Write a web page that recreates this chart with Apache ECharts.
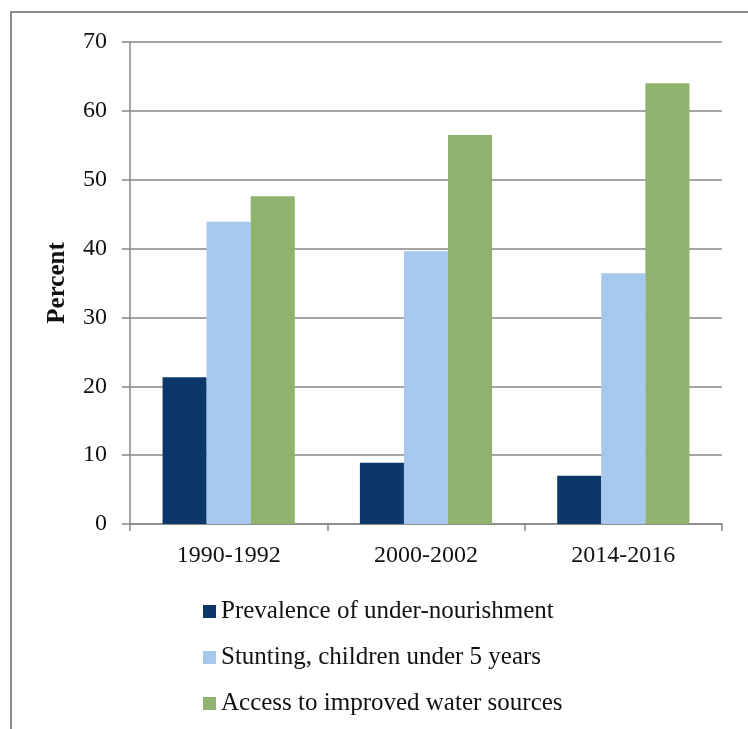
<!DOCTYPE html>
<html>
<head>
<meta charset="utf-8">
<script src="https://cdn.jsdelivr.net/npm/echarts@6/dist/echarts.min.js"></script>
<style>
html,body{margin:0;padding:0;background:#fff;}
#chart{width:748px;height:729px;}
</style>
</head>
<body>
<div id="chart"></div>
<script>
var categories = ['1990-1992', '2000-2002', '2014-2016'];
var seriesNames = ['Prevalence of under-nourishment', 'Stunting, children under 5 years', 'Access to improved water sources'];
var undernourishment = [21.3, 8.9, 7.0];
var stunting = [43.9, 39.6, 36.4];
var water = [47.6, 56.5, 64.0];
var yTicks = [0, 10, 20, 30, 40, 50, 60, 70];

var colors = ['#0B3868', '#A6C7EE', '#8FB26E'];
var font = '"Liberation Serif", "DejaVu Serif", serif';

var chart = echarts.init(document.getElementById('chart'), null, {renderer: 'canvas'});
var gridColor = '#878787';
chart.setOption({
  animation: false,
  backgroundColor: '#fff',
  textStyle: {fontFamily: font},
  graphic: [{
    type: 'polyline',
    shape: {points: [[11, 740], [11, 12], [760, 12]]},
    style: {stroke: '#8a8a8a', lineWidth: 2, fill: null},
    silent: true
  }],
  grid: {left: 130, right: 26, top: 42, bottom: 205, containLabel: false},
  legend: {
    orient: 'vertical',
    left: 198,
    top: 594,
    itemWidth: 13,
    itemHeight: 13,
    itemGap: 21,
    icon: 'rect',
    textStyle: {fontFamily: font, fontSize: 25, color: '#111', lineHeight: 24},
    data: seriesNames
  },
  xAxis: {
    type: 'category',
    data: categories,
    boundaryGap: true,
    axisLine: {show: true, lineStyle: {color: gridColor, width: 1.5}},
    axisTick: {show: true, length: 7, alignWithLabel: false, lineStyle: {color: gridColor, width: 1.5}},
    axisLabel: {fontFamily: font, fontSize: 24, color: '#111', margin: 20}
  },
  yAxis: {
    type: 'value',
    min: yTicks[0],
    max: yTicks[yTicks.length - 1],
    interval: 10,
    name: 'Percent',
    nameLocation: 'middle',
    nameGap: 60,
    nameRotate: 90,
    nameTextStyle: {fontFamily: font, fontSize: 25, fontWeight: 'bold', color: '#111'},
    axisLine: {show: true, lineStyle: {color: gridColor, width: 1.5}},
    axisTick: {show: true, inside: false, length: 8, lineStyle: {color: gridColor, width: 1.5}},
    axisLabel: {fontFamily: font, fontSize: 24, color: '#111', margin: 23},
    splitLine: {show: true, lineStyle: {color: gridColor, width: 1.5}}
  },
  series: [
    {name: seriesNames[0], type: 'bar', data: undernourishment, itemStyle: {color: colors[0]}, barGap: '0%', barCategoryGap: '33%'},
    {name: seriesNames[1], type: 'bar', data: stunting, itemStyle: {color: colors[1]}, barGap: '0%', barCategoryGap: '33%'},
    {name: seriesNames[2], type: 'bar', data: water, itemStyle: {color: colors[2]}, barGap: '0%', barCategoryGap: '33%'}
  ]
});
</script>
</body>
</html>
